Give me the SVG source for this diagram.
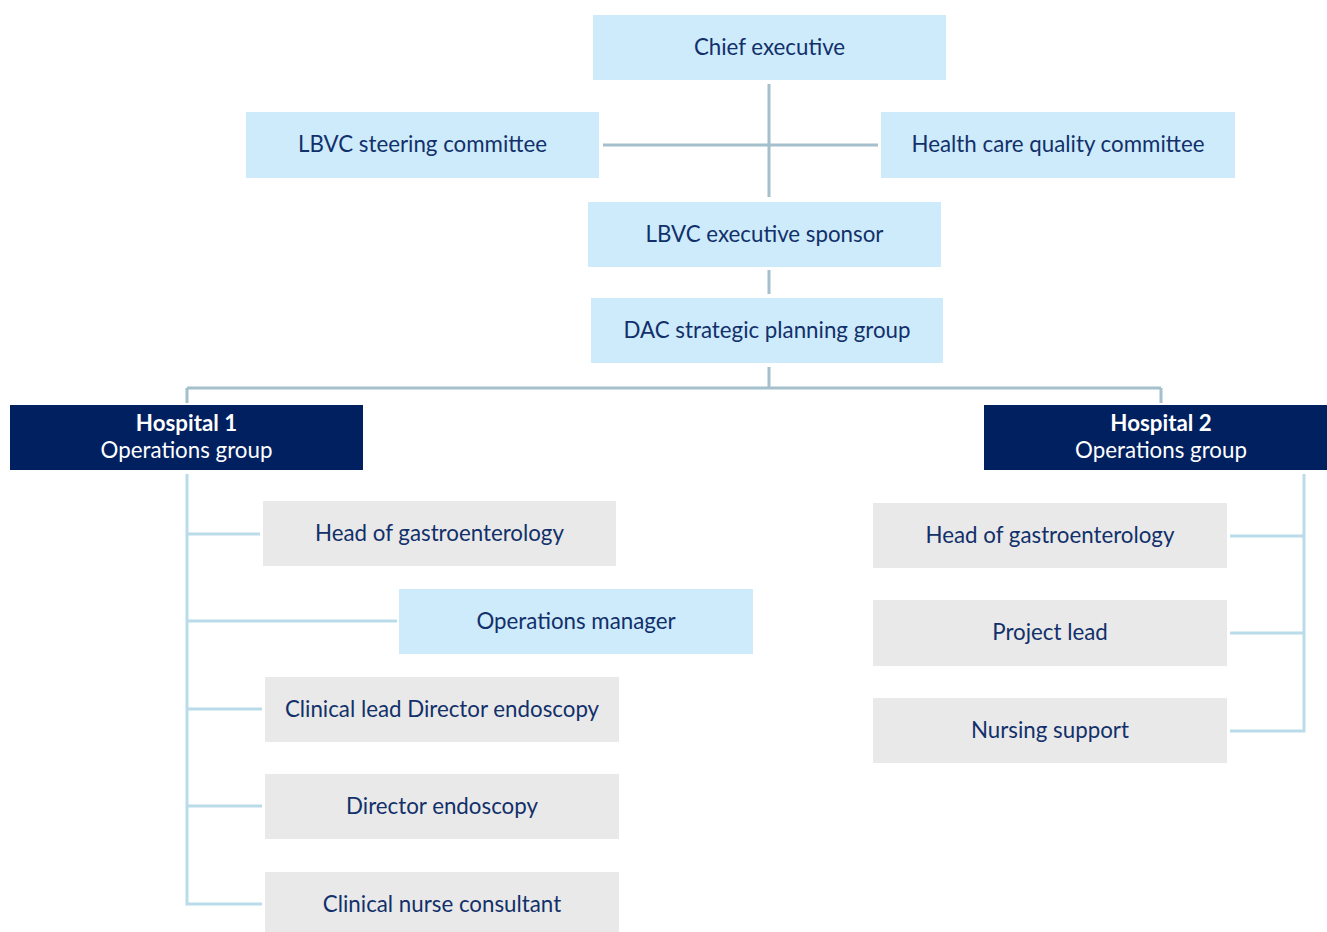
<svg xmlns="http://www.w3.org/2000/svg" width="1327" height="932" viewBox="0 0 1327 932">
<style>
.lb{fill:#cdebfb}
.gr{fill:#e9e9e9}
.dk{fill:#002060}
.t{font-family:Lato,"Open Sans","Liberation Sans",sans-serif;font-size:22.3px;fill:#12306a;text-anchor:middle;dominant-baseline:central}
.w{fill:#ffffff}
.b{font-weight:bold}
.c1{stroke:#a3c0cc;stroke-width:3;fill:none}
.c2{stroke:#b9dbea;stroke-width:3;fill:none}
</style>
<rect width="1327" height="932" fill="#ffffff"/>
<g id="connectors">
<path class="c1" d="M769 84V197M603 145H878M769 270V294M769 367V388M187 388H1161M187 388V403M1161 388V403"/>
<path class="c2" d="M187 474V904H262M187 534H260M187 621H397M187 709H262M187 806H262"/>
<path class="c2" d="M1304 474V731H1230M1230 536H1304M1230 633H1304"/>
</g>
<g id="chief"><rect class="lb" x="593" y="15" width="353" height="65"/><text class="t" x="769.5" y="46">Chief executive</text></g>
<g id="steering"><rect class="lb" x="246" y="112" width="353" height="66"/><text class="t" x="422.5" y="143">LBVC steering committee</text></g>
<g id="quality"><rect class="lb" x="881" y="112" width="354" height="66"/><text class="t" x="1058" y="143">Health care quality committee</text></g>
<g id="sponsor"><rect class="lb" x="588" y="202" width="353" height="65"/><text class="t" x="764.5" y="233">LBVC executive sponsor</text></g>
<g id="dac"><rect class="lb" x="591" y="298" width="352" height="65"/><text class="t" x="767" y="329">DAC strategic planning group</text></g>
<g id="hospital1"><rect class="dk" x="10" y="405" width="353" height="65"/><text class="t w" x="186.5" y="422"><tspan class="b">Hospital 1</tspan></text><text class="t w" x="186.5" y="449">Operations group</text></g>
<g id="hospital2"><rect class="dk" x="984" y="405" width="343" height="65"/><text class="t w" x="1161" y="422"><tspan class="b">Hospital 2</tspan></text><text class="t w" x="1161" y="449">Operations group</text></g>
<g id="h1-gastro"><rect class="gr" x="263" y="501" width="353" height="65"/><text class="t" x="439.5" y="532">Head of gastroenterology</text></g>
<g id="h1-opsmgr"><rect class="lb" x="399" y="589" width="354" height="65"/><text class="t" x="576" y="620">Operations manager</text></g>
<g id="h1-clinlead"><rect class="gr" x="265" y="677" width="354" height="65"/><text class="t" x="442" y="708">Clinical lead Director endoscopy</text></g>
<g id="h1-director"><rect class="gr" x="265" y="774" width="354" height="65"/><text class="t" x="442" y="805">Director endoscopy</text></g>
<g id="h1-nurse"><rect class="gr" x="265" y="872" width="354" height="62"/><text class="t" x="442" y="903">Clinical nurse consultant</text></g>
<g id="h2-gastro"><rect class="gr" x="873" y="503" width="354" height="65"/><text class="t" x="1050" y="534">Head of gastroenterology</text></g>
<g id="h2-project"><rect class="gr" x="873" y="600" width="354" height="66"/><text class="t" x="1050" y="631">Project lead</text></g>
<g id="h2-nursing"><rect class="gr" x="873" y="698" width="354" height="65"/><text class="t" x="1050" y="729">Nursing support</text></g>
</svg>
